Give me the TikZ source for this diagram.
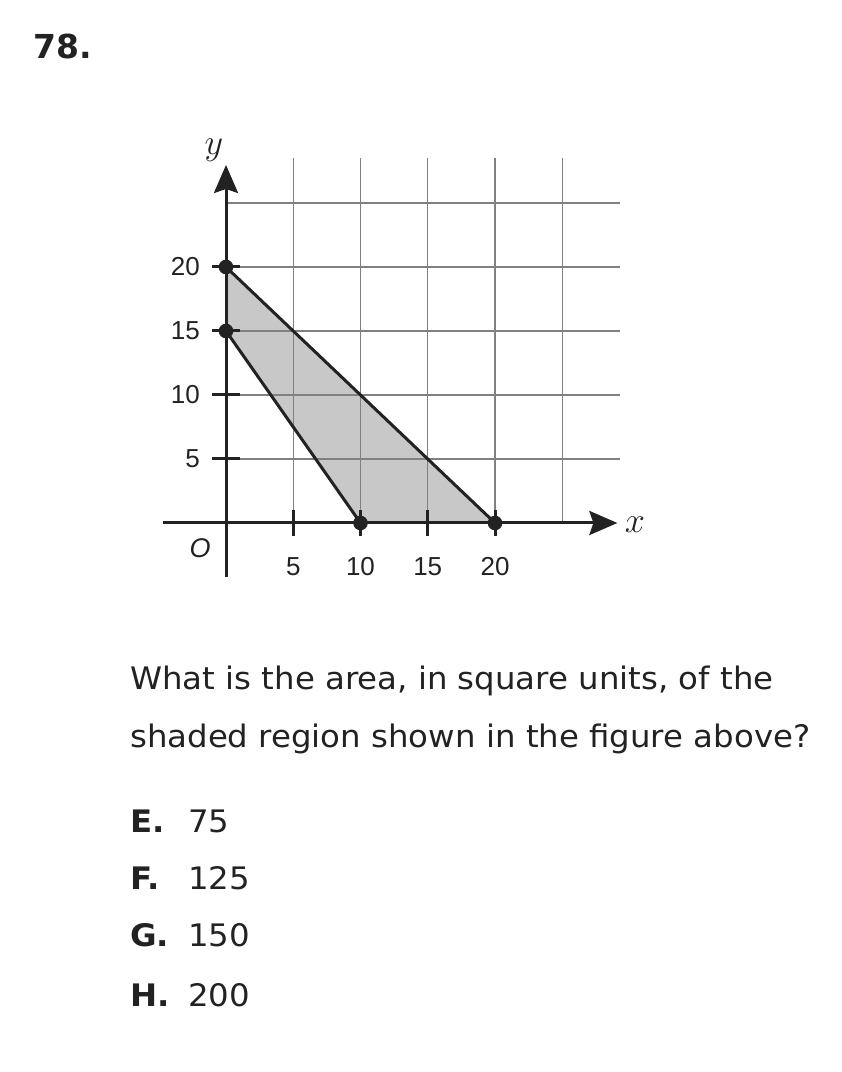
\documentclass[tikz,border=0pt]{standalone}
\usepackage{fontspec}
\setmainfont{DejaVu Sans}[FakeStretch=1.045]
\newfontfamily\axisfont{Liberation Sans}
\newfontfamily\headfont{DejaVu Sans}
\usetikzlibrary{arrows.meta}
\definecolor{ink}{HTML}{222222}
\definecolor{regiongray}{HTML}{C8C8C8}
\definecolor{gridc}{HTML}{808080}
\begin{document}
\begin{tikzpicture}[x=1pt,y=1pt,
  gridline/.style={draw=gridc, line width=1.4pt},
  axisline/.style={draw=ink, line width=3pt},
  tickline/.style={draw=ink, line width=3pt},
  edgeline/.style={draw=ink, line width=3pt, line cap=round},
  lbl/.style={font=\axisfont\fontsize{26}{30}\selectfont, inner sep=0pt, text=ink},
  body/.style={font=\fontsize{31}{36}\selectfont, inner sep=0pt, anchor=base west, text=ink},
  choice/.style={font=\bfseries\fontsize{31}{36}\selectfont, inner sep=0pt, anchor=base west, text=ink},
  axislabel/.style={inner sep=0pt, font=\fontsize{20.74}{25}\selectfont, scale=1.74, text=ink},
  dot/.style={fill=ink},
]
\useasboundingbox (0,0) rectangle (842,1072);
\node[font=\headfont\bfseries\fontsize{33}{40}\selectfont, anchor=base west, inner sep=0pt, text=ink] (num) at (33,1013) {78.};

\begin{scope}[shift={(226pt,549pt)}, x=13.45pt, y=12.8pt]
  \coordinate (A) at (0,20);
  \coordinate (B) at (0,15);
  \coordinate (C) at (10,0);
  \coordinate (D) at (20,0);
  \fill[regiongray] (A) -- (D) -- (C) -- (B) -- cycle;
  \foreach \i in {5,10,15,20,25} \draw[gridline] (\i,0) -- (\i,28.5);
  \foreach \j in {5,10,15,20,25} \draw[gridline] (0,\j) -- (29.3,\j);
  \coordinate (xs) at (-4.68,0);
  \coordinate (xe) at (29.1,0);
  \coordinate (ys) at (0,-4.2);
  \coordinate (ye) at (0,27.97);
  \draw[axisline, -{Stealth[length=28pt,width=24pt,inset=4pt]}] (xs) -- (xe);
  \draw[axisline, -{Stealth[length=28pt,width=24pt,inset=4pt]}] (ys) -- (ye);
  \foreach \i in {5,10,15,20} \draw[tickline] (\i,-1) -- (\i,1);
  \foreach \j in {5,10,15,20} \draw[tickline] (-1.05,\j) -- (1.05,\j);
  \draw[edgeline] (A) -- (D);
  \draw[edgeline] (B) -- (C);
  \foreach \p in {A,B,C,D} \fill[dot] (\p) circle[radius=7.3pt];
  \foreach \j in {5,10,15,20} \node[lbl, anchor=east] (yl\j) at (-1.93,\j) {\j};
  \foreach \i in {5,10,15,20} \node[lbl] (xl\i) at (\i,-3.44) {\i};
  \node[lbl, font=\axisfont\itshape\fontsize{27}{30}\selectfont] (O) at (-1.93,-1.95) {O};
  \node[axislabel] (ylab) at (-0.9,29.1) {$y$};
  \node[axislabel] (xlab) at (30.4,-0.1) {$x$};
\end{scope}

\node[body] (q1) at (130,382) {What is the area, in square units, of the};
\node[body] (q2) at (130,324) {shaded region shown in the figure above?};
\foreach \L/\V/\Y in {E/75/239, F/125/182, G/150/125, H/200/65} {
  \node[choice] (c\L) at (130,\Y) {\L.};
  \node[body] (v\L) at (188,\Y) {\V};
}
\end{tikzpicture}
\end{document}
